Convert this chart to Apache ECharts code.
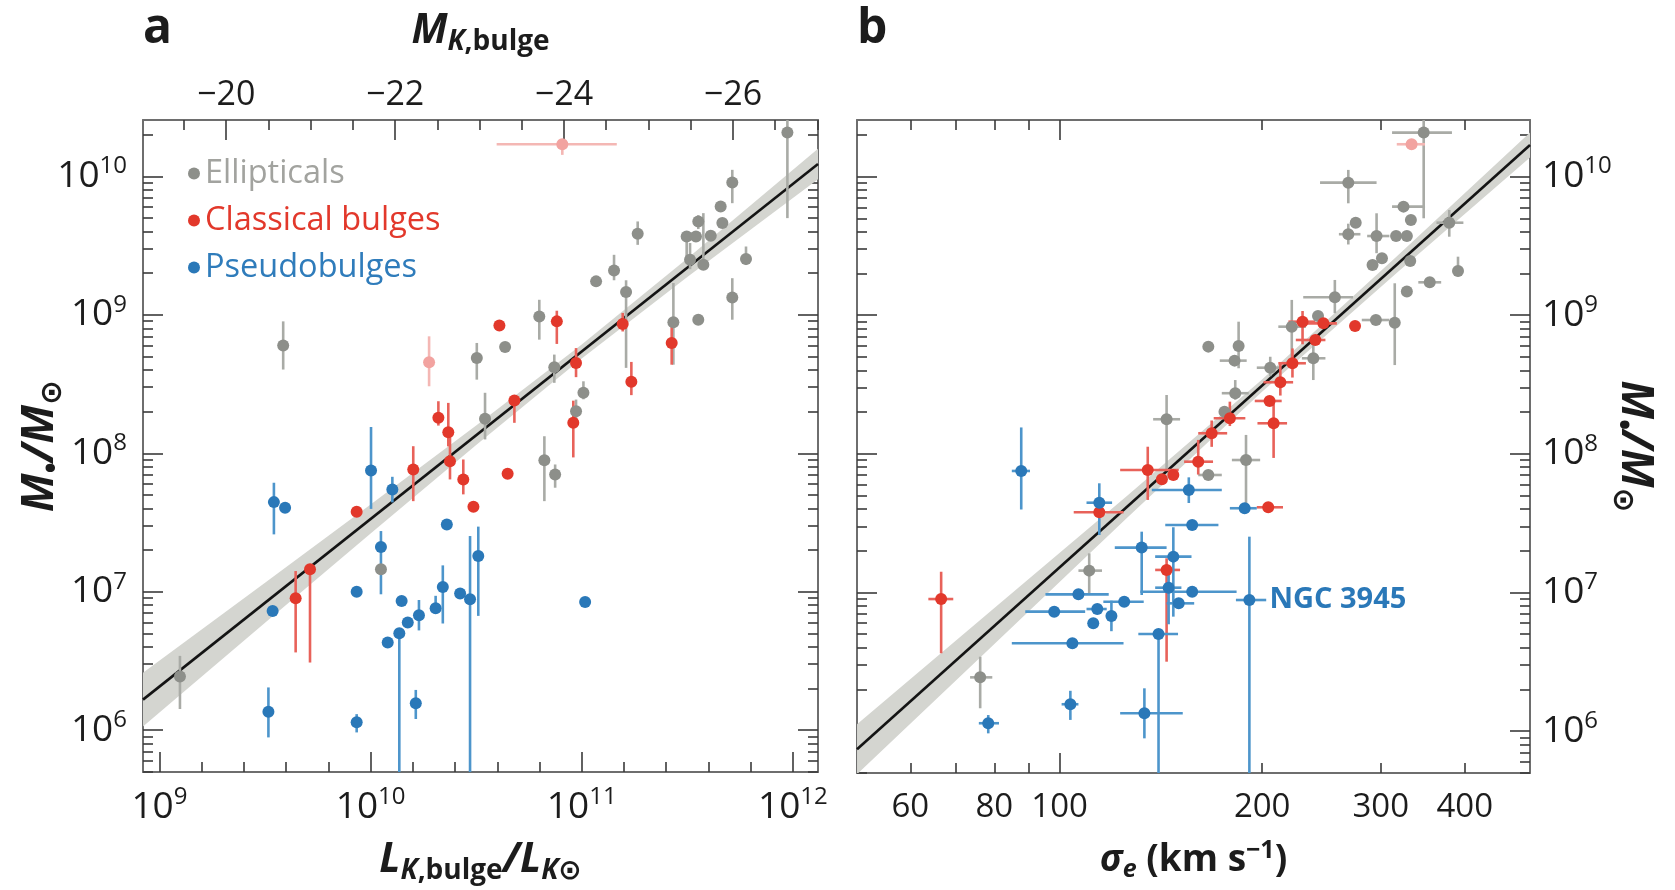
<!DOCTYPE html>
<html><head><meta charset="utf-8">
<script src="https://cdn.jsdelivr.net/npm/echarts@6.0.0/dist/echarts.min.js"></script>
<style>html,body{margin:0;padding:0;background:#fff}#c{width:1675px;height:890px}</style>
</head><body><div id="c"></div>
<script>
// ---------- DATA (log10 units) ----------
// Panel a: [log L_K, log M, logM_lo, logM_hi, logL_lo, logL_hi]
const ellipticalsA = [
 [9.097,6.387,6.152,6.536,null,null],[9.586,8.778,8.605,8.953,null,null],[10.049,7.162,null,null,null,null],
 [10.503,8.689,8.532,8.797,null,null],[10.542,8.249,8.10,8.437,null,null],[10.637,8.768,null,null,null,null],
 [10.799,8.989,8.821,9.109,null,null],[10.823,7.950,7.654,8.123,null,null],[10.870,8.621,8.509,8.713,null,null],
 [10.874,7.847,7.751,7.919,null,null],[10.973,8.304,8.25,8.388,null,null],[11.008,8.437,8.39,8.52,null,null],
 [11.068,9.242,null,null,null,null],[11.153,9.321,9.25,9.434,null,null],[11.210,9.165,8.617,9.25,null,null],
 [11.265,9.586,9.506,9.675,null,null],[11.434,8.946,8.64,9.23,null,null],[11.497,9.567,9.40,9.60,null,null],
 [11.513,9.398,9.33,9.519,null,null],[11.541,9.567,null,null,null,null],[11.552,8.965,null,null,null,null],
 [11.552,9.675,9.62,9.72,null,null],[11.576,9.362,9.33,9.735,null,null],[11.611,9.571,null,null,null,null],
 [11.658,9.783,null,null,null,null],[11.666,9.663,null,null,null,null],[11.713,9.956,9.807,10.048,null,null],
 [11.713,9.126,8.965,9.265,null,null],[11.778,9.403,9.36,9.494,null,null],[11.974,10.317,9.699,10.5,null,null]
];
const classicalA = [
 [9.645,6.952,6.561,7.149,null,null],[9.713,7.162,6.488,7.20,null,null],[9.934,7.578,null,null,null,null],
 [10.202,7.883,7.654,8.051,null,null],[10.321,8.256,8.20,8.376,null,null],[10.368,8.152,8.05,8.364,null,null],
 [10.376,7.943,7.811,8.12,null,null],[10.439,7.811,7.703,7.955,null,null],[10.487,7.614,null,null,null,null],
 [10.649,7.852,null,null,null,null],[10.610,8.924,null,null,null,null],[10.681,8.381,8.22,8.412,null,null],
 [10.882,8.953,8.79,9.03,null,null],[10.973,8.653,8.55,8.76,null,null],[10.960,8.220,7.97,8.38,null,null],
 [11.194,8.934,8.88,9.014,null,null],[11.235,8.516,8.42,8.66,null,null],[11.426,8.797,8.64,8.94,null,null]
];
const pseudoA = [
 [9.542,7.647,7.414,7.787,null,null],[9.595,7.607,null,null,null,null],[9.536,6.861,null,null,null,null],
 [9.516,6.132,5.947,6.308,null,null],[9.934,7.000,null,null,null,null],[9.934,6.056,5.983,6.115,null,null],
 [10.002,7.876,7.598,8.19,null,null],[10.049,7.323,6.981,7.438,null,null],[10.103,7.739,7.645,7.83,null,null],
 [10.081,6.633,null,null,null,null],[10.136,6.700,5.0,6.73,null,null],[10.147,6.933,null,null,null,null],
 [10.176,6.777,null,null,null,null],[10.214,6.193,6.08,6.29,null,null],[10.229,6.830,6.72,6.94,null,null],
 [10.308,6.880,6.84,6.97,null,null],[10.342,7.034,6.77,7.19,null,null],[10.361,7.486,null,null,null,null],
 [10.424,6.986,null,null,null,null],[10.471,6.945,5.0,7.402,null,null],[10.510,7.258,6.825,7.47,null,null],
 [11.016,6.926,null,null,null,null]
];
const omittedA = [
 [10.277,8.657,8.484,8.845,null,null],[10.908,10.233,10.156,10.26,10.597,11.166]
];
// Panel b: [log sigma, log M, logM_lo, logM_hi, logSigma_lo, logSigma_hi]
const ellipticalsB = [
 [1.882,6.387,6.164,6.536,1.867,1.900],[2.044,7.157,6.994,7.282,2.028,2.063],[2.159,8.249,7.88,8.424,2.139,2.179],
 [2.221,7.847,null,null,2.206,2.241],[2.277,7.955,7.618,8.136,2.256,2.298],[2.221,8.773,null,null,null,null],
 [2.266,8.778,8.617,8.953,null,null],[2.260,8.672,null,null,2.238,2.278],[2.261,8.437,8.39,8.532,2.241,2.281],
 [2.245,8.304,null,null,null,null],[2.313,8.621,8.56,8.70,2.293,2.328],[2.345,8.917,8.628,9.11,2.325,2.366],
 [2.377,8.689,8.532,8.797,2.360,2.395],[2.384,8.994,null,null,null,null],[2.409,9.129,9.014,9.254,2.362,2.436],
 [2.429,9.956,9.807,10.048,2.387,2.471],[2.429,9.584,9.51,9.66,2.415,2.447],[2.440,9.667,null,null,null,null],
 [2.465,9.362,null,null,null,null],[2.479,9.411,null,null,null,null],[2.471,9.571,9.447,9.735,2.457,2.490],
 [2.500,9.571,null,null,null,null],[2.516,9.571,null,null,null,null],[2.511,9.783,null,null,2.494,2.543],
 [2.522,9.687,null,null,null,null],[2.521,9.391,null,null,null,null],[2.470,8.965,null,null,2.449,2.490],
 [2.498,8.946,8.64,9.23,null,null],[2.516,9.170,null,null,null,null],[2.550,9.237,null,null,2.533,2.567],
 [2.579,9.667,9.566,9.759,2.560,2.600],[2.592,9.319,9.28,9.422,null,null],[2.541,10.317,9.699,10.5,2.494,2.583]
];
const classicalB = [
 [1.824,6.952,6.561,7.149,1.805,1.842],[2.059,7.578,null,null,2.021,2.095],[2.131,7.883,7.667,8.051,2.090,2.177],
 [2.152,7.816,null,null,null,null],[2.169,7.847,null,null,null,null],[2.159,7.162,6.50,7.246,2.142,2.179],
 [2.206,7.943,7.85,8.10,2.185,2.228],[2.226,8.148,8.05,8.24,2.206,2.249],[2.253,8.256,8.20,8.376,2.229,2.276],
 [2.312,8.381,null,null,2.290,2.330],[2.318,8.220,7.97,8.388,2.294,2.338],[2.328,8.516,8.42,8.66,2.303,2.347],
 [2.346,8.653,8.55,8.76,2.325,2.366],[2.361,8.953,8.79,9.03,2.340,2.380],[2.380,8.821,null,null,2.351,2.395],
 [2.392,8.941,null,null,2.360,2.412],[2.439,8.922,null,null,null,null],[2.310,7.614,null,null,2.293,2.332]
];
const pseudoB = [
 [1.894,6.056,5.983,6.115,1.880,1.910],[1.943,7.876,7.598,8.19,1.929,1.956],[1.992,6.861,null,null,1.949,2.038],
 [2.016,6.193,6.08,6.29,2.003,2.028],[2.019,6.633,null,null,1.929,2.095],[2.028,6.986,null,null,1.979,2.073],
 [2.050,6.777,null,null,null,null],[2.056,6.880,null,null,2.040,2.070],[2.059,7.647,7.414,7.787,2.040,2.078],
 [2.077,6.830,6.72,6.94,null,null],[2.096,6.933,null,null,2.065,2.125],[2.122,7.323,6.981,7.438,2.082,2.159],
 [2.126,6.128,5.947,6.308,2.090,2.183],[2.147,6.700,5.0,6.73,2.117,2.176],[2.162,7.034,6.77,7.19,2.142,2.181],
 [2.169,7.258,6.825,7.47,2.142,2.196],[2.177,6.921,null,null,2.159,2.200],[2.192,7.739,7.645,7.83,2.137,2.241],
 [2.197,7.486,null,null,2.157,2.236],[2.197,7.005,null,null,2.120,2.263],[2.275,7.607,null,null,2.253,2.293],
 [2.282,6.945,5.0,7.402,2.262,2.307]
];
const omittedB = [[2.523,10.233,null,null,2.501,2.543]];
const labelledPseudoB = {index: 21, text: 'NGC 3945'};

// Fit lines and 1-sigma bands
const fitLineA = [[8.922,6.22],[12.119,10.09]];
const bandAx  = [8.922,9.5,10.0,10.5,11.0,11.5,12.119];
const bandAlo = [6.025,6.775,7.42,8.06,8.685,9.274,9.98];
const bandAhi = [6.415,7.065,7.63,8.20,8.785,9.408,10.20];
const fitLineB = [[1.699,5.868],[2.699,10.228]];
const bandBx  = [1.699,1.9,2.1,2.3,2.5,2.699];
const bandBlo = [5.688,6.614,7.536,8.443,9.30,10.138];
const bandBhi = [6.048,6.874,7.696,8.533,9.42,10.318];

// Axis ranges and ticks
const massRange = [5.697, 10.408];
const massMajor = [6,7,8,9,10];
const minorMult = [2,3,4,5,6,7,8,9];
const lumRange = [8.922, 12.119];
const lumMajor = [9,10,11,12];
const lumMinor = [9.2,9.4,9.6,9.8,10.2,10.4,10.6,10.8,11.2,11.4,11.6,11.8];
const magRange = [-27.0075, -19.015];
const magMajor = [-20,-22,-24,-26];
const magMinor = [-19.5,-20.5,-21,-21.5,-22.5,-23,-23.5,-24.5,-25,-25.5,-26.5,-27];
const sigRange = [1.69897, 2.69897];
const sigLabels = [60,80,100,200,300,400];
const sigMajor = [100];
const sigMinor = [60,70,80,90,200,300,400];

// ---------- STYLE ----------
const FONT = "'Open Sans','Noto Sans','DejaVu Sans',sans-serif";
const TXT = '#1c1c1c', FRAME = '#6e6e6e', TICK = '#3a3a3a';
const GRAY = '#8d8f8a', GRAY_E = '#a9aba6';
const RED = '#e2382b', RED_E = '#e8625a';
const BLUE = '#2a78b8', BLUE_E = '#4d95cb';
const PINK = '#f2a3a0', PINK_E = '#f4b7b4';
const BAND = '#d4d5d0', LINE = '#141414';

const massMinor = [];
for (let n = 5; n <= 10; n++) minorMult.forEach(m => { const v = n + Math.log10(m); if (v > massRange[0] && v < massRange[1]) massMinor.push(v); });

const chart = echarts.init(document.getElementById('c'), null, {renderer: 'canvas'});

function ax(o) {
  return Object.assign({type: 'value', splitLine: {show: false}, axisLine: {show: false},
    axisTick: {show: false}, axisLabel: {show: false}, axisPointer: {show: false}, nameMoveOverlap: false}, o);
}
const frame = {show: true, onZero: false, lineStyle: {color: FRAME, width: 2}};
function ticks(vals, len) { return {show: true, inside: true, length: len, customValues: vals, lineStyle: {color: TICK, width: 1.6}}; }
const supRich = {
  b: {fontSize: 37, fontFamily: FONT, color: TXT, lineHeight: 44},
  s: {fontSize: 24, fontFamily: FONT, color: TXT, verticalAlign: 'top', lineHeight: 26}
};
const pow10 = v => '{b|10}{s|' + Math.round(v) + '}';
function titleRich(big, small) {
  const lh = Math.round(big * 1.2), sl = Math.round(small * 1.15);
  return {
    i: {fontSize: big, fontFamily: FONT, fontWeight: 'bold', fontStyle: 'italic', color: TXT, lineHeight: lh},
    b: {fontSize: big, fontFamily: FONT, fontWeight: 'bold', color: TXT, lineHeight: lh},
    si: {fontSize: small, fontFamily: FONT, fontWeight: 'bold', fontStyle: 'italic', color: TXT, verticalAlign: 'bottom', lineHeight: sl},
    sub: {fontSize: small, fontFamily: FONT, fontWeight: 'bold', color: TXT, verticalAlign: 'bottom', lineHeight: sl},
    sup: {fontSize: small, fontFamily: FONT, fontWeight: 'bold', color: TXT, verticalAlign: 'top', lineHeight: sl}
  };
}
const lg = v => Math.log10(v);

const xAxes = [
  // panel a bottom (luminosity)
  ax({gridIndex: 0, position: 'bottom', min: lumRange[0], max: lumRange[1], axisLine: frame, axisTick: ticks(lumMajor, 20),
      axisLabel: {show: true, customValues: lumMajor, margin: 13, formatter: pow10, rich: supRich},
      name: '{i|L}{si|K}{sub|,bulge}{i|/L}{si|K}{sub|\u2299}', nameLocation: 'middle', nameGap: 64, nameTextStyle: {rich: titleRich(41, 28)}}),
  ax({gridIndex: 0, position: 'bottom', min: lumRange[0], max: lumRange[1], axisTick: ticks(lumMinor, 10)}),
  // panel a top (absolute magnitude)
  ax({gridIndex: 0, position: 'top', min: magRange[0], max: magRange[1], inverse: true, axisLine: frame, axisTick: ticks(magMajor, 20),
      axisLabel: {show: true, customValues: magMajor, margin: 8, fontSize: 34, fontFamily: FONT, color: TXT, formatter: v => '\u2212' + Math.abs(v)},
      name: '{i|M}{si|K}{sub|,bulge}', nameLocation: 'middle', nameGap: 64, nameTextStyle: {rich: titleRich(41, 28)}}),
  ax({gridIndex: 0, position: 'top', min: magRange[0], max: magRange[1], inverse: true, axisTick: ticks(magMinor, 10)}),
  // panel b bottom (sigma)
  ax({gridIndex: 1, position: 'bottom', min: sigRange[0], max: sigRange[1], axisLine: frame, axisTick: ticks(sigMajor.map(lg), 20),
      axisLabel: {show: true, customValues: sigLabels.map(lg), margin: 18, fontSize: 33, fontFamily: FONT, color: TXT, formatter: v => String(Math.round(Math.pow(10, v)))},
      name: '{i|\u03c3}{si|e}{b| (km s}{sup|\u22121}{b|)}', nameLocation: 'middle', nameGap: 65, nameTextStyle: {rich: titleRich(37, 25)}}),
  ax({gridIndex: 1, position: 'bottom', min: sigRange[0], max: sigRange[1], axisTick: ticks(sigMinor.map(lg), 10)}),
  ax({gridIndex: 1, position: 'top', min: sigRange[0], max: sigRange[1], axisLine: frame, axisTick: ticks(sigMajor.map(lg), 20)}),
  ax({gridIndex: 1, position: 'top', min: sigRange[0], max: sigRange[1], axisTick: ticks(sigMinor.map(lg), 10)})
];
const yName = '{i|M}{sub|\u2022}{i|/M}{sub|\u2299}';
const yNameRich = titleRich(44, 30);
const yAxes = [
  ax({gridIndex: 0, position: 'left', min: massRange[0], max: massRange[1], axisLine: frame, axisTick: ticks(massMajor, 20),
      axisLabel: {show: true, customValues: massMajor, margin: 16, formatter: pow10, rich: supRich},
      name: yName, nameLocation: 'middle', nameGap: 76, nameRotate: 90, nameTextStyle: {rich: yNameRich, align: 'center'}}),
  ax({gridIndex: 0, position: 'left', min: massRange[0], max: massRange[1], axisTick: ticks(massMinor, 10)}),
  ax({gridIndex: 0, position: 'right', min: massRange[0], max: massRange[1], axisLine: frame, axisTick: ticks(massMajor, 20)}),
  ax({gridIndex: 0, position: 'right', min: massRange[0], max: massRange[1], axisTick: ticks(massMinor, 10)}),
  ax({gridIndex: 1, position: 'left', min: massRange[0], max: massRange[1], axisLine: frame, axisTick: ticks(massMajor, 20)}),
  ax({gridIndex: 1, position: 'left', min: massRange[0], max: massRange[1], axisTick: ticks(massMinor, 10)}),
  ax({gridIndex: 1, position: 'right', min: massRange[0], max: massRange[1], axisLine: frame, axisTick: ticks(massMajor, 20),
      axisLabel: {show: true, customValues: massMajor, margin: 12, formatter: pow10, rich: supRich},
      name: yName, nameLocation: 'middle', nameGap: 78, nameRotate: -90, nameTextStyle: {rich: yNameRich, align: 'center'}}),
  ax({gridIndex: 1, position: 'right', min: massRange[0], max: massRange[1], axisTick: ticks(massMinor, 10)})
];

function errSeries(data, xi, yi, color) {
  return {
    type: 'custom', xAxisIndex: xi, yAxisIndex: yi, z: 3, silent: true, clip: true,
    data: data, encode: {x: 0, y: 1},
    renderItem: function (params, api) {
      const cs = params.coordSys;
      const cx = v => Math.max(cs.x, Math.min(cs.x + cs.width, v));
      const cy = v => Math.max(cs.y, Math.min(cs.y + cs.height, v));
      const x = api.value(0), y = api.value(1);
      const c = api.coord([x, y]);
      const kids = [];
      const ylo = api.value(2), yhi = api.value(3), xlo = api.value(4), xhi = api.value(5);
      const st = {stroke: color, lineWidth: 2.6};
      if (isFinite(ylo) && isFinite(yhi)) {
        const p1 = api.coord([x, ylo]), p2 = api.coord([x, yhi]);
        kids.push({type: 'line', shape: {x1: c[0], y1: cy(p1[1]), x2: c[0], y2: cy(p2[1])}, style: st});
      }
      if (isFinite(xlo) && isFinite(xhi)) {
        const p1 = api.coord([xlo, y]), p2 = api.coord([xhi, y]);
        kids.push({type: 'line', shape: {x1: cx(p1[0]), y1: c[1], x2: cx(p2[0]), y2: c[1]}, style: st});
      }
      return {type: 'group', children: kids};
    }
  };
}
function ptSeries(name, data, xi, yi, color) {
  return {type: 'scatter', name: name, xAxisIndex: xi, yAxisIndex: yi, z: 4, symbolSize: 12,
    itemStyle: {color: color, opacity: 1}, emphasis: {disabled: true}, data: data.map(d => [d[0], d[1]])};
}
function bandSeries(bx, blo, bhi, xi, yi) {
  return {
    type: 'custom', xAxisIndex: xi, yAxisIndex: yi, z: 1, silent: true, clip: true,
    data: [[bx[0], blo[0]]], encode: {x: 0, y: 1},
    renderItem: function (params, api) {
      const pts = [];
      for (let k = 0; k < bx.length; k++) pts.push(api.coord([bx[k], bhi[k]]));
      for (let k = bx.length - 1; k >= 0; k--) pts.push(api.coord([bx[k], blo[k]]));
      return {type: 'polygon', shape: {points: pts}, style: {fill: BAND}};
    }
  };
}
function lineSeries(data, xi, yi) {
  return {type: 'line', xAxisIndex: xi, yAxisIndex: yi, z: 2, silent: true, symbol: 'none', clip: true,
    lineStyle: {color: LINE, width: 2.6}, data: data};
}

const pseudoBSeries = ptSeries('Pseudobulges', pseudoB, 4, 4, BLUE);
pseudoBSeries.data[labelledPseudoB.index] = {value: pseudoBSeries.data[labelledPseudoB.index],
  label: {show: true, position: 'right', distance: 14, formatter: labelledPseudoB.text,
    fontSize: 29, fontWeight: 'bold', fontFamily: FONT, color: BLUE}};

const series = [
  bandSeries(bandAx, bandAlo, bandAhi, 0, 0), lineSeries(fitLineA, 0, 0),
  bandSeries(bandBx, bandBlo, bandBhi, 4, 4), lineSeries(fitLineB, 4, 4),
  errSeries(ellipticalsA, 0, 0, GRAY_E), errSeries(classicalA, 0, 0, RED_E), errSeries(pseudoA, 0, 0, BLUE_E), errSeries(omittedA, 0, 0, PINK_E),
  errSeries(ellipticalsB, 4, 4, GRAY_E), errSeries(classicalB, 4, 4, RED_E), errSeries(pseudoB, 4, 4, BLUE_E), errSeries(omittedB, 4, 4, PINK_E),
  ptSeries('Ellipticals', ellipticalsA, 0, 0, GRAY), ptSeries('Classical bulges', classicalA, 0, 0, RED),
  ptSeries('Pseudobulges', pseudoA, 0, 0, BLUE), ptSeries('Omitted', omittedA, 0, 0, PINK),
  ptSeries('Ellipticals', ellipticalsB, 4, 4, GRAY), ptSeries('Classical bulges', classicalB, 4, 4, RED),
  pseudoBSeries, ptSeries('Omitted', omittedB, 4, 4, PINK)
];

chart.setOption({
  animation: false,
  backgroundColor: '#ffffff',
  title: [
    {text: 'a', left: 138, top: 0, textStyle: {fontSize: 48, fontWeight: 'bold', fontFamily: FONT, color: TXT}},
    {text: 'b', left: 852, top: 0, textStyle: {fontSize: 48, fontWeight: 'bold', fontFamily: FONT, color: TXT}}
  ],
  legend: {
    orient: 'vertical', left: 183, top: 152, itemGap: 14, itemWidth: 12, itemHeight: 12, icon: 'circle', selectedMode: false,
    textStyle: {fontSize: 32.5, fontFamily: FONT, lineHeight: 33},
    data: [
      {name: 'Ellipticals', textStyle: {color: '#a2a39f'}},
      {name: 'Classical bulges', textStyle: {color: RED}},
      {name: 'Pseudobulges', textStyle: {color: '#2f7cbb'}}
    ]
  },
  grid: [
    {left: 143, top: 120, width: 675, height: 653},
    {left: 857, top: 120, width: 673, height: 653}
  ],
  xAxis: xAxes,
  yAxis: yAxes,
  series: series
});
</script>
</body></html>
